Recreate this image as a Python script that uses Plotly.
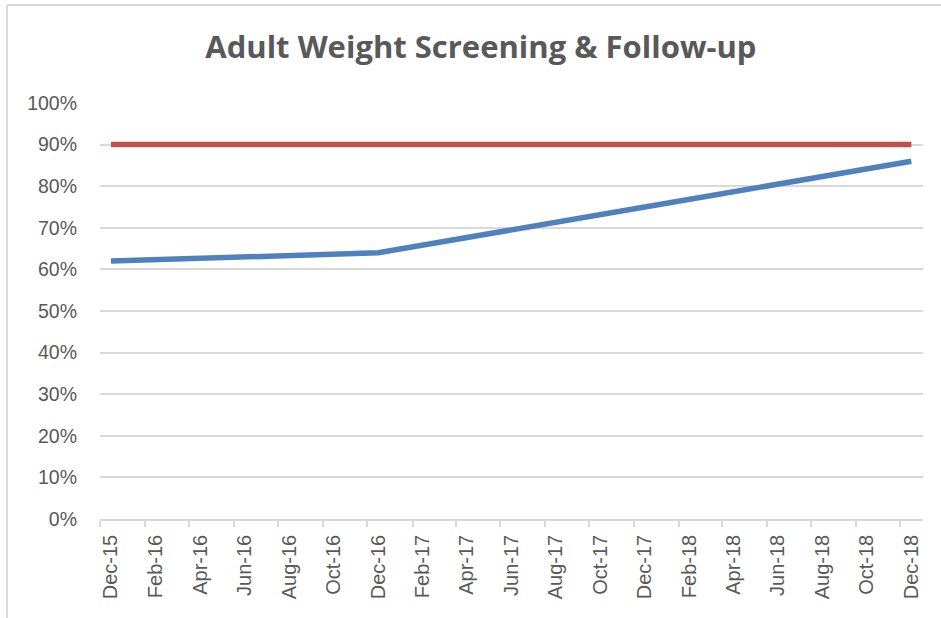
import plotly.graph_objects as go

# Data
months = ["2015-12-16", "2016-12-16", "2017-12-16", "2018-12-16"]
rate = [0.62, 0.64, 0.75, 0.86]
target_months = ["2015-12-16", "2018-12-16"]
target = [0.90, 0.90]

tick_dates = ["2015-12-16", "2016-02-15", "2016-04-16", "2016-06-16", "2016-08-16", "2016-10-16",
              "2016-12-16", "2017-02-15", "2017-04-16", "2017-06-16", "2017-08-16", "2017-10-16",
              "2017-12-16", "2018-02-15", "2018-04-16", "2018-06-16", "2018-08-16", "2018-10-16",
              "2018-12-16"]
tick_labels = ["Dec-15", "Feb-16", "Apr-16", "Jun-16", "Aug-16", "Oct-16",
               "Dec-16", "Feb-17", "Apr-17", "Jun-17", "Aug-17", "Oct-17",
               "Dec-17", "Feb-18", "Apr-18", "Jun-18", "Aug-18", "Oct-18",
               "Dec-18"]
y_ticks = [i / 10 for i in range(11)]

fig = go.Figure()
fig.add_trace(go.Scatter(x=target_months, y=target, mode="lines",
                         line=dict(color="#C0504D", width=5.5), name="Target"))
fig.add_trace(go.Scatter(x=months, y=rate, mode="lines",
                         line=dict(color="#4F81BD", width=5.5), name="Rate"))

grey = "#595959"
fig.update_layout(
    width=941, height=618,
    margin=dict(l=100, r=18, t=103, b=99, autoexpand=False),
    paper_bgcolor="white", plot_bgcolor="white",
    showlegend=False,
    title=dict(text="<b>Adult Weight Screening & Follow-up</b>", x=0.511, xanchor="center",
               y=1 - 47 / 618, yanchor="middle",
               font=dict(family="Open Sans", size=31, color=grey)),
    font=dict(family="Liberation Sans", size=19, color=grey),
)
fig.update_xaxes(type="date", range=["2015-12-01", "2019-01-01"],
                 tickmode="array", tickvals=tick_dates, ticktext=tick_labels,
                 tickangle=-90, ticks="", showgrid=False, automargin=False,
                 ticklabelstandoff=6,
                 showline=True, linecolor="#D9D9D9", linewidth=1.5,
                 tickfont=dict(size=20, color=grey),
                 minor=dict(ticks="outside", tick0="2015-12-01", dtick="M2",
                            ticklen=6, tickcolor="#D9D9D9", tickwidth=1.5, showgrid=False))
fig.update_yaxes(range=[0, 1.0], tickmode="array", tickvals=y_ticks, automargin=False,
                 tickformat=".0%", showgrid=True, gridcolor="#D9D9D9", gridwidth=1.5,
                 zeroline=False, ticks="", ticklabelstandoff=22,
                 tickfont=dict(size=19.5, color=grey))

# chart border (top and left visible)
fig.add_shape(type="line", xref="paper", yref="paper",
              x0=(7 - 100) / 823, x1=1.03, y0=(519 - 5) / 416, y1=(519 - 5) / 416,
              line=dict(color="#D9D9D9", width=2))
fig.add_shape(type="line", xref="paper", yref="paper",
              x0=(7 - 100) / 823, x1=(7 - 100) / 823, y0=(519 - 5) / 416, y1=-0.3,
              line=dict(color="#D9D9D9", width=2))

fig.write_html("out.html", config={"displayModeBar": False},
               post_script="document.body.style.margin='0px';")
